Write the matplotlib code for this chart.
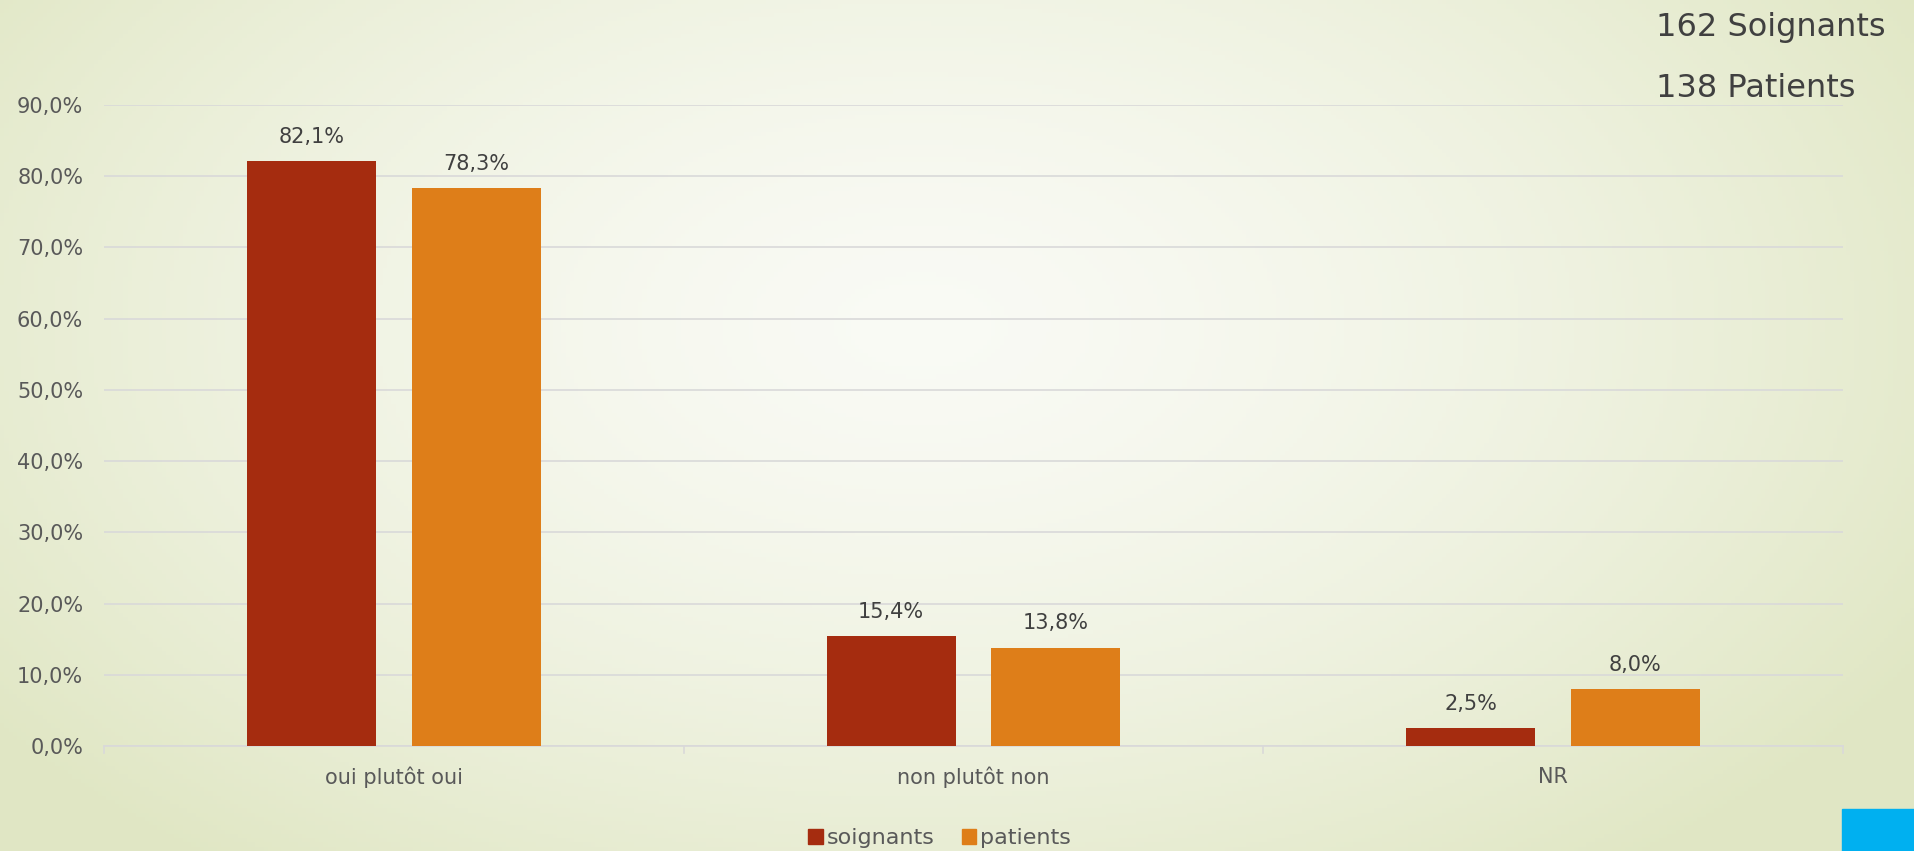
import numpy as np
import matplotlib.pyplot as plt
from matplotlib.patches import Patch, Rectangle

# Data
categories = ['oui plutôt oui', 'non plutôt non', 'NR']
soignants = [82.1, 15.4, 2.5]
patients = [78.3, 13.8, 8.0]
series_names = ['soignants', 'patients']
colors = {'soignants': '#A52C0F', 'patients': '#DE7E19'}
yticks = [0, 10, 20, 30, 40, 50, 60, 70, 80, 90]

plt.rcParams['font.family'] = ['DejaVu Sans']
text_color = '#595959'

fig = plt.figure(figsize=(19.14, 8.51), dpi=100)

# Background gradient (whitish centre, light green edges)
bg = fig.add_axes([0, 0, 1, 1], zorder=0)
h, w = 200, 450
yy, xx = np.mgrid[0:h, 0:w]
dx = (xx / w - 0.48) / 0.6
dy = (yy / h - 0.38) / 0.8
r = np.clip(np.sqrt(dx**2 + dy**2), 0, 1) ** 1.5
c_in = np.array([0.978, 0.982, 0.96])
c_out = np.array([0.88, 0.905, 0.77])
img = c_in[None, None, :] * (1 - r[..., None]) + c_out[None, None, :] * r[..., None]
bg.imshow(img, aspect='auto', extent=[0, 1, 0, 1], origin='upper')
bg.set_xlim(0, 1)
bg.set_ylim(0, 1)
bg.axis('off')

# Slide corner square
bg.add_patch(Rectangle((1842 / 1914, 0), 1 - 1842 / 1914, (851 - 809) / 851,
                       transform=bg.transAxes, color='#00B0F0', zorder=2))

# Main chart
ax = fig.add_axes([104 / 1914, 1 - 746 / 851, (1843 - 104) / 1914, (746 - 105) / 851], zorder=1)
ax.set_facecolor('none')

x = np.arange(len(categories))
bw = 0.223
off = 0.142
b1 = ax.bar(x - off, soignants, bw, color=colors['soignants'], zorder=3)
b2 = ax.bar(x + off, patients, bw, color=colors['patients'], zorder=3)

for bars, vals in [(b1, soignants), (b2, patients)]:
    for b, v in zip(bars, vals):
        ax.text(b.get_x() + b.get_width() / 2, v + 2.0, f"{v:.1f}%".replace('.', ','),
                ha='center', va='bottom', fontsize=15, color='#404040')

ax.set_xlim(-0.5, 2.5)
ax.set_ylim(0, 90)
ax.set_yticks(yticks)
ax.set_yticklabels([f"{t:.1f}%".replace('.', ',') for t in yticks])
ax.set_xticks(x)
ax.set_xticklabels(categories)
ax.tick_params(axis='y', length=0, pad=15, labelsize=15, labelcolor=text_color)
ax.tick_params(axis='x', length=0, pad=15, labelsize=15, labelcolor=text_color)
ax.grid(axis='y', color='#D9D9D9', linewidth=1.2, zorder=0)
for s in ['top', 'right', 'left']:
    ax.spines[s].set_visible(False)
ax.spines['bottom'].set_color('#D9D9D9')
ax.spines['bottom'].set_linewidth(1.2)

# Category separator ticks
for xb in [-0.5, 0.5, 1.5, 2.5]:
    ax.plot([xb, xb], [0, -1.0], color='#D9D9D9', lw=1.2, clip_on=False, zorder=2)

# Legend
handles = [Patch(color=colors[n], label=n) for n in series_names]
fig.legend(handles=handles, loc='center', bbox_to_anchor=(0.491, 1 - 838 / 851),
           ncol=2, frameon=False, fontsize=16, handlelength=0.65, handleheight=0.65,
           handletextpad=0.2, columnspacing=1.2, labelcolor=text_color,
           borderaxespad=0, borderpad=0)

# Top-right annotations
fig.text(1656 / 1914, 1 - 36 / 851, '162 Soignants', fontsize=23, color='#404040',
         ha='left', va='baseline')
fig.text(1656 / 1914, 1 - 97 / 851, '138 Patients', fontsize=23, color='#404040',
         ha='left', va='baseline')

plt.savefig('out.png', dpi=100)
